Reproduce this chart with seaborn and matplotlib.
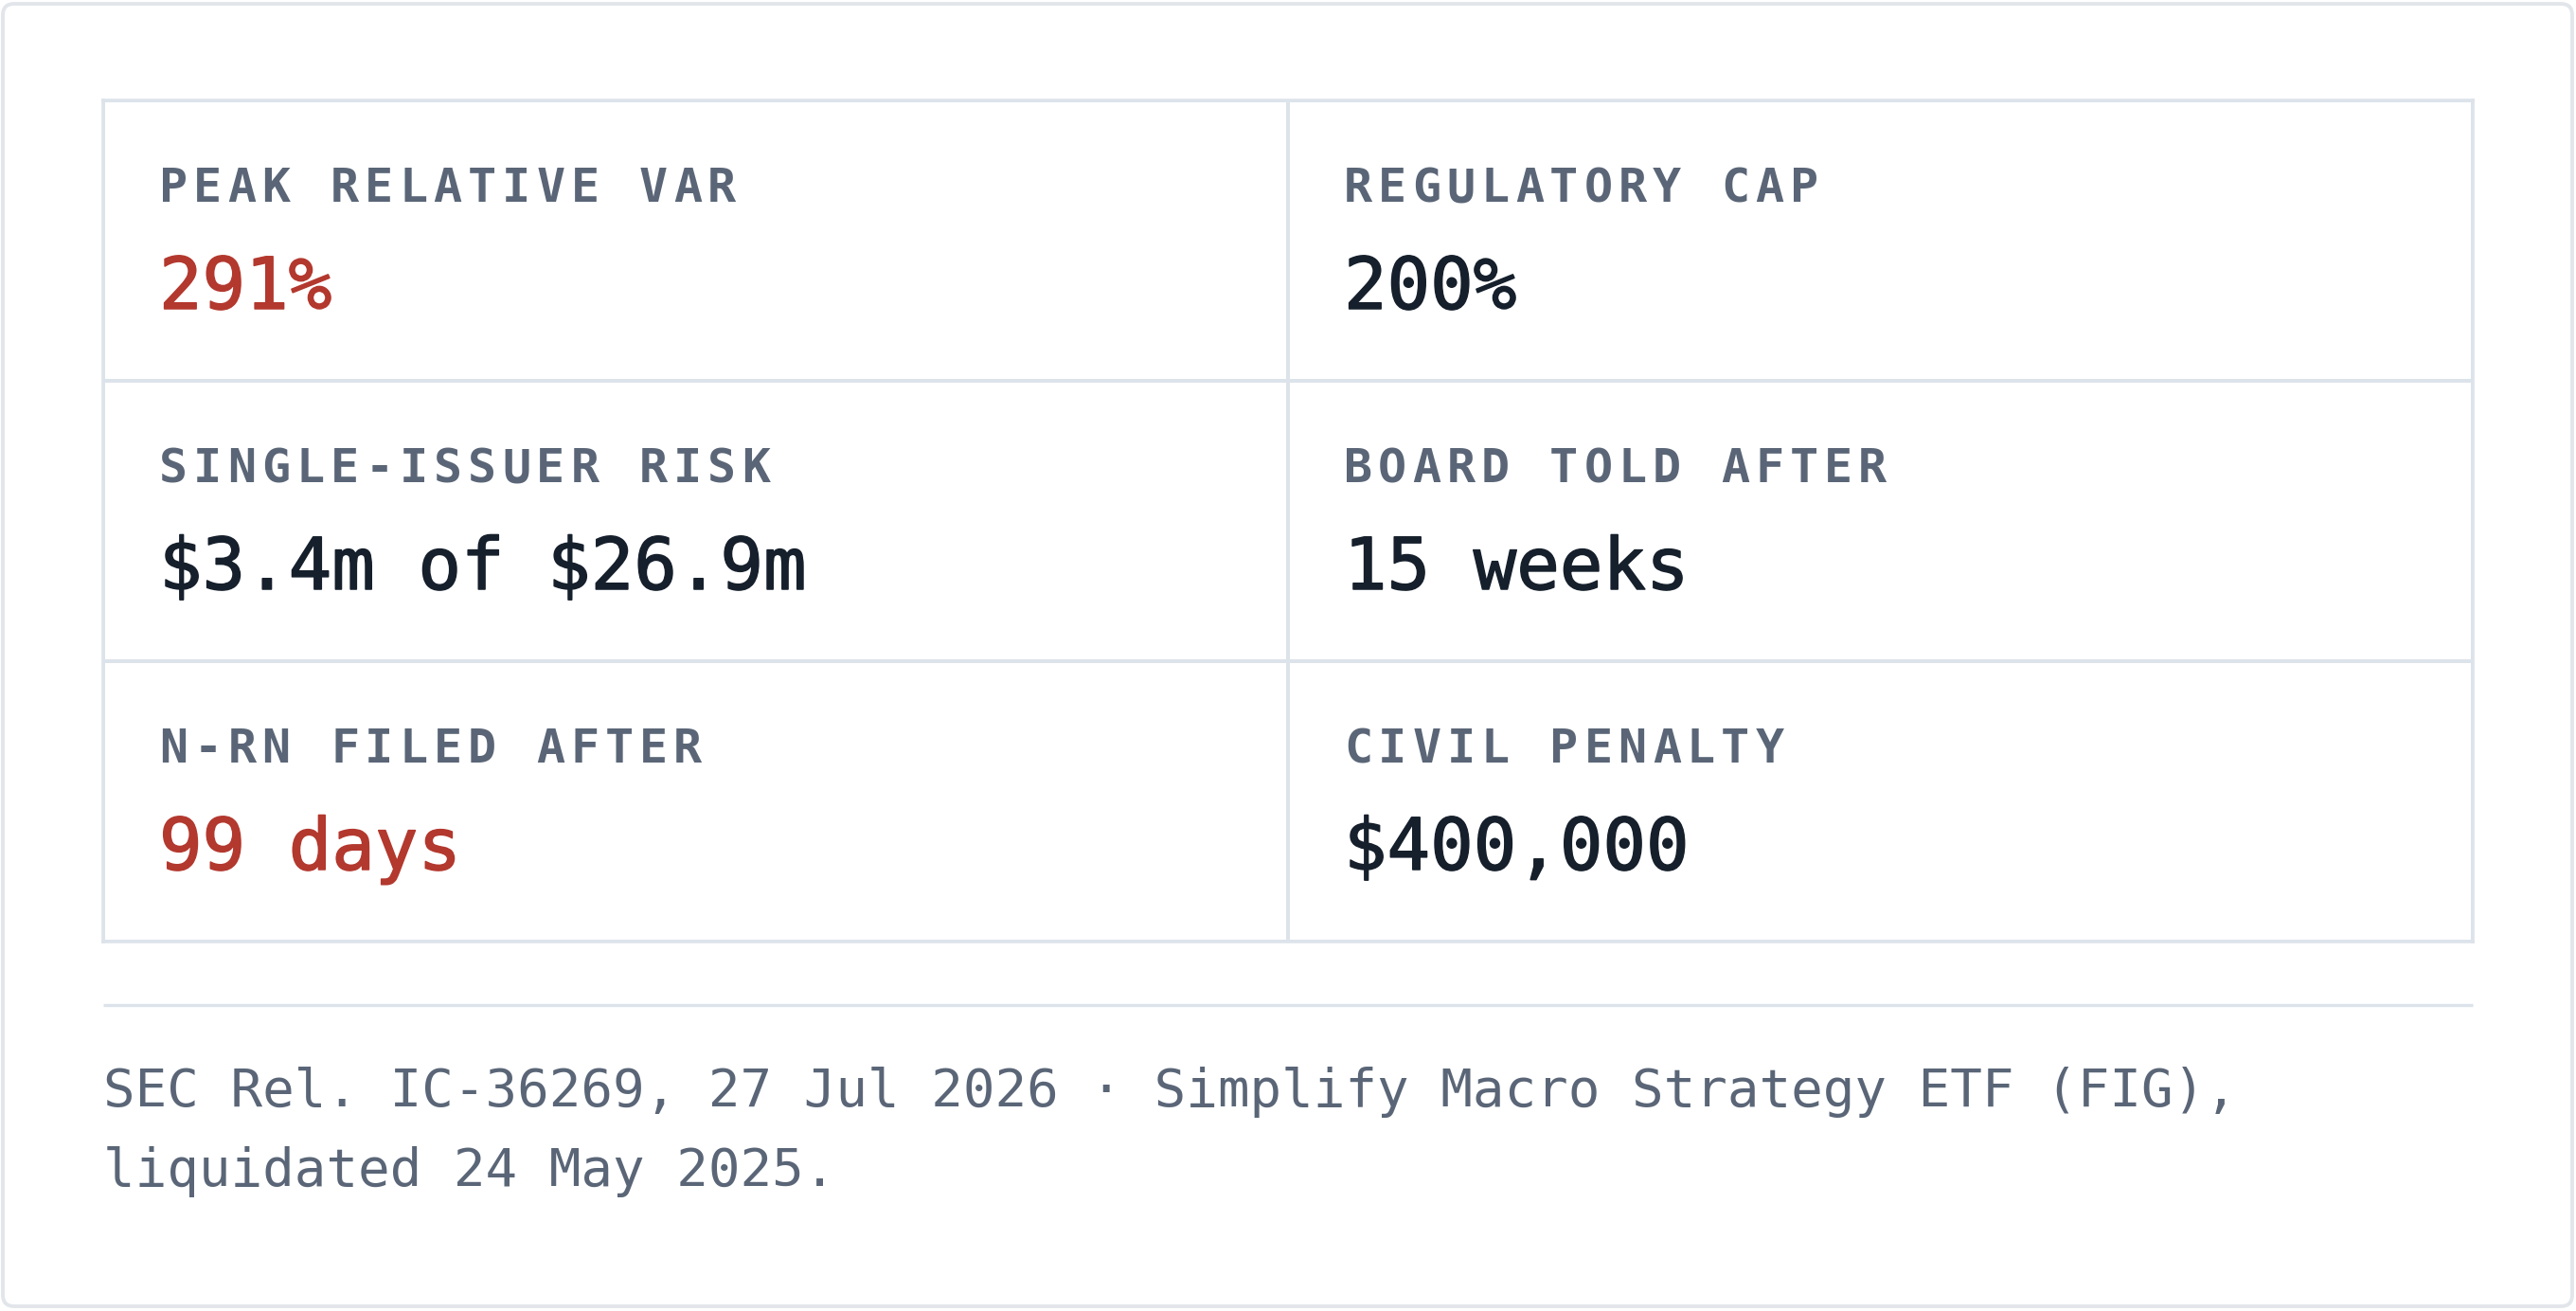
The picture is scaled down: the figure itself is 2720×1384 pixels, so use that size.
import numpy as np
import pandas as pd
import seaborn as sns
import matplotlib
matplotlib.use('Agg')
import matplotlib.pyplot as plt
import matplotlib.patheffects as pe
from matplotlib.patches import FancyBboxPatch

# Card contents
labels = ["PEAK RELATIVE VAR", "REGULATORY CAP",
          "SINGLE-ISSUER RISK", "BOARD TOLD AFTER",
          "N-RN FILED AFTER", "CIVIL PENALTY"]
values = ["291%", "200%", "$3.4m of $26.9m", "15 weeks", "99 days", "$400,000"]
flagged = [True, False, False, False, True, False]
footer = ["SEC Rel. IC-36269, 27 Jul 2026 \u00b7 Simplify Macro Strategy ETF (FIG),",
          "liquidated 24 May 2025."]

n_cols = 2
n_rows = len(labels) // n_cols

# Colours
line_c = "#dde3ea"
card_c = "#e2e6eb"
label_c = "#5a6677"
value_c = "#16202c"
red_c = "#b3382e"

sns.set_theme(style="white")
plt.rcParams['font.family'] = ['DejaVu Sans Mono', 'DejaVu Sans']

W, H = 2720, 1384
fig = plt.figure(figsize=(W / 100, H / 100), dpi=100)
fig.patch.set_facecolor("white")

# background axes in pixel units for card, rule and footer
bg = fig.add_axes([0, 0, 1, 1], zorder=0)
bg.set_xlim(0, W)
bg.set_ylim(H, 0)
bg.axis("off")
bg.add_patch(FancyBboxPatch((3, 4), W - 7, H - 9,
                            boxstyle="round,pad=0,rounding_size=12",
                            facecolor="white", edgecolor=card_c, lw=2.8))

# table grid drawn as an empty heatmap
tx0, ty0, tx1, ty1 = 109, 106, 2611, 994
ax = fig.add_axes([tx0 / W, 1 - ty1 / H, (tx1 - tx0) / W, (ty1 - ty0) / H], zorder=1)
grid = pd.DataFrame(np.zeros((n_rows, n_cols)))
sns.heatmap(grid, ax=ax, cmap=["white"], cbar=False, linewidths=2.6,
            linecolor=line_c, xticklabels=False, yticklabels=False)
for sp in ax.spines.values():
    sp.set_visible(True)
    sp.set_color(line_c)
    sp.set_linewidth(2.6)

pad_x = 59
step = 36.2
for i, (lab, val) in enumerate(zip(labels, values)):
    r, c = divmod(i, n_cols)
    # letter-spaced label
    for k, ch in enumerate(lab):
        if ch == " ":
            continue
        ax.annotate(ch, (c, r), xytext=(pad_x + k * step, -107),
                    textcoords="offset pixels", ha="left", va="baseline",
                    fontsize=36, fontweight="bold", color=label_c,
                    annotation_clip=False)
    col = red_c if flagged[i] else value_c
    # thin stroke gives the values a medium weight
    ax.annotate(val, (c, r), xytext=(pad_x, -220), textcoords="offset pixels",
                ha="left", va="baseline", fontsize=54.5, color=col,
                parse_math=False, annotation_clip=False,
                path_effects=[pe.withStroke(linewidth=1.1, foreground=col)])

# rule and source note
bg.hlines(1061, tx0, tx1, color=line_c, lw=2.4)
for j, line in enumerate(footer):
    bg.text(tx0, 1168 + j * 84, line, ha="left", va="baseline",
            fontsize=40.25, color=label_c, parse_math=False)

fig.savefig("out.png", dpi=100, facecolor="white")
